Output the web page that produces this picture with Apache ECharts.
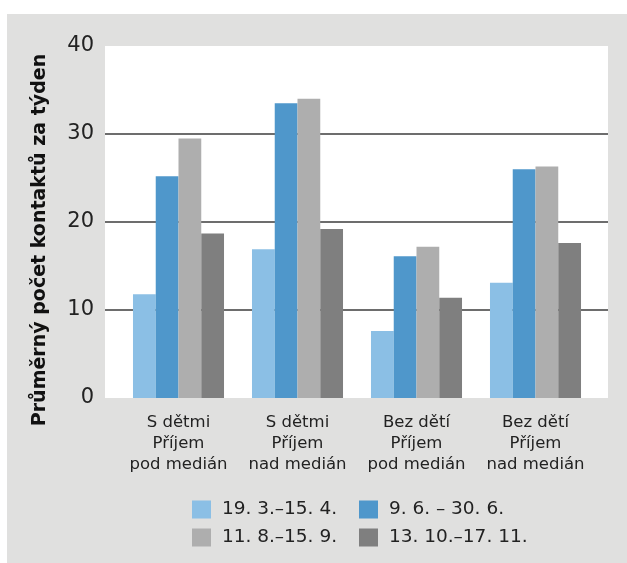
<!DOCTYPE html>
<html>
<head>
<meta charset="utf-8">
<script src="https://cdn.jsdelivr.net/npm/echarts@6/dist/echarts.min.js"></script>
<style>
  html, body { margin: 0; padding: 0; background: #ffffff; }
  #chart { width: 627px; height: 563px; }
</style>
</head>
<body>
<div id="chart"></div>
<script>
// Skupiny domácností (osa x)
const categories = [
  'S dětmi\nPříjem\npod medián',
  'S dětmi\nPříjem\nnad medián',
  'Bez dětí\nPříjem\npod medián',
  'Bez dětí\nPříjem\nnad medián'
];

// Období sběru dat
const periods = ['19. 3.–15. 4.', '9. 6. – 30. 6.', '11. 8.–15. 9.', '13. 10.–17. 11.'];

// Průměrný počet kontaktů za týden v jednotlivých obdobích
const valuesMarch = [11.8, 16.9, 7.6, 13.1];
const valuesJune = [25.2, 33.5, 16.1, 26.0];
const valuesAugust = [29.5, 34.0, 17.2, 26.3];
const valuesOctober = [18.7, 19.2, 11.4, 17.6];

const yTicks = [0, 10, 20, 30, 40];
const axisTitle = 'Průměrný počet kontaktů za týden';

const colors = ['#8bbfe5', '#4f97cb', '#aeaeae', '#7f7f7f'];
const seriesValues = [valuesMarch, valuesJune, valuesAugust, valuesOctober];

const FONT = '"DejaVu Sans", sans-serif';

const chart = echarts.init(document.getElementById('chart'));

const plotTop = 46, plotBottom = 398;

chart.setOption({
  backgroundColor: '#e0e0df',
  animation: false,
  graphic: [
    { type: 'rect', shape: { x: 0, y: 0, width: 627, height: 14 }, style: { fill: '#ffffff' }, silent: true },
    { type: 'rect', shape: { x: 0, y: 0, width: 7, height: 563 }, style: { fill: '#ffffff' }, silent: true },
    {
      type: 'text', x: 40, y: 240, rotation: Math.PI / 2,
      style: {
        text: axisTitle, fill: '#111111',
        font: 'bold 19px ' + FONT,
        textAlign: 'center', textVerticalAlign: 'middle'
      }
    }
  ],
  grid: [
    { left: 105, top: plotTop, width: 503, height: plotBottom - plotTop, show: true, backgroundColor: '#ffffff', borderWidth: 0 },
    { left: 119, top: plotTop, width: 476, height: plotBottom - plotTop }
  ],
  xAxis: [
    { gridIndex: 0, type: 'value', show: false },
    {
      gridIndex: 1, type: 'category', data: categories,
      axisLine: { show: false }, axisTick: { show: false },
      axisLabel: {
        interval: 0, hideOverlap: false,
        margin: 14, color: '#222222', fontSize: 16.5, lineHeight: 21,
        fontFamily: FONT
      }
    }
  ],
  yAxis: [
    {
      gridIndex: 0, type: 'value', min: yTicks[0], max: yTicks[yTicks.length - 1], interval: 10,
      axisLine: { show: false }, axisTick: { show: false },
      axisLabel: { margin: 11, color: '#222222', fontSize: 21, fontFamily: FONT },
      splitLine: {
        show: true,
        lineStyle: { color: ['rgba(0,0,0,0)', '#3d3d3d', '#3d3d3d', '#3d3d3d', 'rgba(0,0,0,0)'], width: 1.5 }
      }
    },
    { gridIndex: 1, type: 'value', min: 0, max: 40, show: false }
  ],
  legend: [
    {
      orient: 'vertical', left: 192, top: 500, padding: 0,
      itemWidth: 19, itemHeight: 18, itemGap: 9, icon: 'rect',
      data: [periods[0], periods[2]],
      formatter: n => ' ' + n,
      textStyle: { fontSize: 18.5, color: '#222222', fontFamily: FONT }
    },
    {
      orient: 'vertical', left: 359, top: 500, padding: 0,
      itemWidth: 19, itemHeight: 18, itemGap: 9, icon: 'rect',
      data: [periods[1], periods[3]],
      formatter: n => ' ' + n,
      textStyle: { fontSize: 18.5, color: '#222222', fontFamily: FONT }
    }
  ],
  series: periods.map((name, i) => ({
    name: name,
    type: 'bar',
    xAxisIndex: 1, yAxisIndex: 1,
    data: seriesValues[i],
    barGap: '0%',
    barCategoryGap: '23.5%',
    itemStyle: { color: colors[i] }
  }))
});
</script>
</body>
</html>
